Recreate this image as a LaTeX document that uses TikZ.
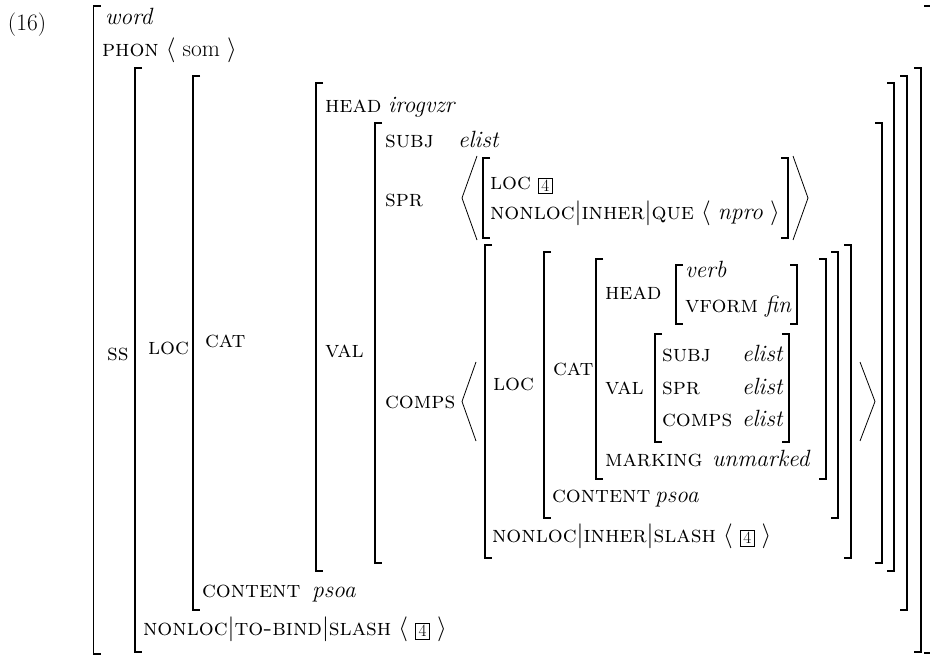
\documentclass[tikz,border=0pt]{standalone}
% feature names, atomic values, path bars, lists and tags
\newcommand\ft[1]{\textsc{#1}}
\newcommand\vl[1]{\textit{#1}}
\newcommand\pth{\ensuremath{|}}
\newcommand\lst[1]{$\langle$\ #1\ $\rangle$}
\newcommand\tbox[1]{{\setlength\fboxsep{0pt}\setlength\fboxrule{0.6pt}\raisebox{-1.5pt}{\fbox{\makebox[13.5pt]{\rule[-2pt]{0pt}{14.5pt}\fontsize{17.28}{18}\selectfont #1}}}}}
% square brackets: x, top, bottom
\newcommand\LB[3]{\draw[brk] (#1+7,#2) -- (#1,#2) -- (#1,#3) -- (#1+7,#3);}
\newcommand\RB[3]{\draw[brk] (#1-7,#2) -- (#1,#2) -- (#1,#3) -- (#1-7,#3);}
% large angle brackets: tip x, open x, top, bottom
\newcommand\AB[4]{\draw[angl] (#2,#3) -- (#1,{(#3+#4)/2}) -- (#2,#4);}
\begin{document}
\begin{tikzpicture}[x=1pt,y=-1pt,
  txt/.style={anchor=base west,inner sep=0pt,outer sep=0pt,font=\fontsize{23.5}{28}\selectfont},
  brk/.style={line width=1.3pt,line cap=butt,line join=miter},
  angl/.style={line width=0.8pt,line join=miter}]
\clip (0,0) rectangle (930,655);
\fill[white] (0,0) rectangle (930,655);

% outermost word matrix
\node[txt] (ex) at (8,31) {(16)};
\node[txt] (w) at (105,25) {\vl{word}};
\node[txt] (phon) at (102,57) {\ft{phon} \lst{som}};
\node[txt] (ss) at (107,361) {\ft{ss}};
\LB{93.5}{6}{654}
\RB{931}{6}{653}

% SS value
\node[txt] (loc) at (148,355) {\ft{loc}};
\node[txt] (tobind) at (143,635) {\ft{nonloc}\pth\ft{to-bind}\pth\ft{slash} \lst{\tbox{4}}};
\LB{135}{68}{652}
\RB{921}{68}{652}

% LOC value
\node[txt] (cat) at (205,348) {\ft{cat}};
\node[txt] (cont) at (202,597) {\ft{content}};
\node[txt] (contv) at (312,597) {\vl{psoa}};
\LB{193}{76}{610}
\RB{907}{76}{610}

% CAT value
\node[txt] (head) at (325,113) {\ft{head}};
\node[txt] (headv) at (388,113) {\vl{irogvzr}};
\node[txt] (val) at (325,357) {\ft{val}};
\LB{316}{83}{571}
\RB{894}{83}{571}

% VAL value
\node[txt] (subj) at (385,148) {\ft{subj}};
\node[txt] (subjv) at (458,148) {\vl{elist}};
\node[txt] (spr) at (385,207) {\ft{spr}};
\node[txt] (comps) at (385,408) {\ft{comps}};
\LB{375}{123}{563}
\RB{882}{123}{563}

% SPR list
\AB{462}{477}{156}{240}
\AB{808}{793}{156}{240}
\node[txt] (sprloc) at (490,190) {\ft{loc} \tbox{4}};
\node[txt] (sprnl) at (490,220) {\ft{nonloc}\pth\ft{inher}\pth\ft{que} \lst{\vl{npro}}};
\LB{483}{158}{238}
\RB{788}{158}{238}

% COMPS list
\AB{462}{476}{362}{441}
\AB{875}{860}{362}{441}
\node[txt] (cloc) at (493,390) {\ft{loc}};
\node[txt] (cnl) at (492,542) {\ft{nonloc}\pth\ft{inher}\pth\ft{slash} \lst{\tbox{4}}};
\LB{485}{245}{558}
\RB{851}{245}{558}

% LOC value of the complement
\node[txt] (ccat) at (553,375) {\ft{cat}};
\node[txt] (ccont) at (552,502) {\ft{content}};
\node[txt] (ccontv) at (655,502) {\vl{psoa}};
\LB{544}{252}{518}
\RB{838}{252}{518}

% CAT value of the complement
\node[txt] (chead) at (605,300) {\ft{head}};
\node[txt] (cval) at (605,394) {\ft{val}};
\node[txt] (mark) at (605,466) {\ft{marking}};
\node[txt] (markv) at (712,466) {\vl{unmarked}};
\LB{596}{259}{479}
\RB{826}{259}{479}

% HEAD value of the complement
\node[txt] (verb) at (685,278) {\vl{verb}};
\node[txt] (vform) at (685,313) {\ft{vform} \vl{fin}};
\LB{676}{265}{324}
\RB{797}{265}{324}

% VAL value of the complement
\node[txt] (csubj) at (662,362) {\ft{subj}};
\node[txt] (csubjv) at (742,362) {\vl{elist}};
\node[txt] (cspr) at (662,394) {\ft{spr}};
\node[txt] (csprv) at (742,394) {\vl{elist}};
\node[txt] (ccomps) at (662,426) {\ft{comps}};
\node[txt] (ccompsv) at (742,426) {\vl{elist}};
\LB{655}{334}{442}
\RB{789}{334}{442}
\end{tikzpicture}
\end{document}
